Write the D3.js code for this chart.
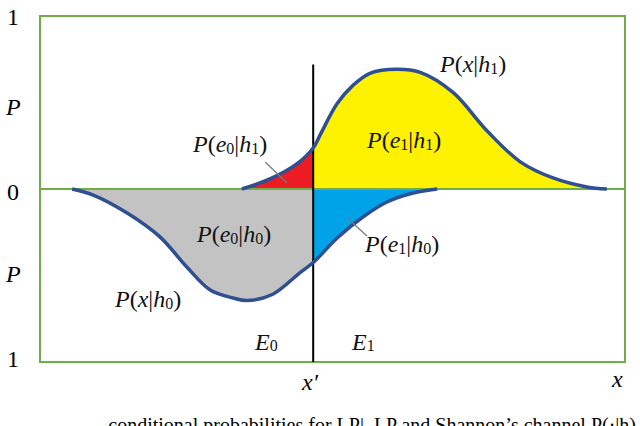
<!DOCTYPE html>
<html>
<head>
<meta charset="utf-8">
<script src="https://cdn.jsdelivr.net/npm/d3@7"></script>
<style>
  body { margin: 0; background: #fff; }
</style>
</head>
<body>
<div id="chart"></div>
<script>
// P(x|h1), above the zero line
var h1X = [34.5, 39.3, 43.9, 46.7, 48.0, 50.8, 53.5, 56.4, 61.0, 65.0, 70.6, 76.4, 82.1, 87.7, 93.5, 96.9];
var h1P = [0, 0.058, 0.145, 0.237, 0.32, 0.494, 0.599, 0.669, 0.692, 0.674, 0.558, 0.337, 0.157, 0.064, 0.012, 0];
// P(x|h0), drawn downward
var h0X = [5.5, 9.1, 14.9, 20.5, 25.1, 29.1, 33.0, 35.4, 39.7, 44.4, 46.8, 50.8, 55.2, 59.3, 63.8, 67.9];
var h0P = [0, -0.035, -0.139, -0.277, -0.451, -0.584, -0.630, -0.645, -0.610, -0.485, -0.422, -0.283, -0.162, -0.075, -0.023, 0];
var xSplit = 46.7;   // x'
var splitTop = 0.72;
var leaders = [[38.5, 0.156, 42.2, 0.035], [52.5, -0.168, 55.9, -0.272]];

var serif = "'Liberation Serif', 'Times New Roman', 'DejaVu Serif', serif";
var width = 640, height = 426;
var svg = d3.select("#chart").append("svg")
    .attr("width", width)
    .attr("height", height);

var x = d3.scaleLinear().domain([0, 100]).range([40, 625]);
var y = d3.scaleLinear().domain([-1, 1]).range([362, 16]);

var h1 = h1X.map(function(d, i) { return {x: d, p: h1P[i]}; });
var h0 = h0X.map(function(d, i) { return {x: d, p: h0P[i]}; });

var defs = svg.append("defs");
defs.append("clipPath").attr("id", "left")
  .append("rect")
    .attr("x", 0).attr("y", 0)
    .attr("width", x(xSplit)).attr("height", height);
defs.append("clipPath").attr("id", "right")
  .append("rect")
    .attr("x", x(xSplit)).attr("y", 0)
    .attr("width", width - x(xSplit)).attr("height", height);

var area = d3.area()
    .x(function(d) { return x(d.x); })
    .y0(y(0))
    .y1(function(d) { return y(d.p); })
    .curve(d3.curveCatmullRom.alpha(0.5));
var line = d3.line()
    .x(function(d) { return x(d.x); })
    .y(function(d) { return y(d.p); })
    .curve(d3.curveCatmullRom.alpha(0.5));

// fills
svg.append("path").datum(h0).attr("d", area).attr("clip-path", "url(#left)").style("fill", "#c3c3c3");
svg.append("path").datum(h0).attr("d", area).attr("clip-path", "url(#right)").style("fill", "#00a2e8");
svg.append("path").datum(h1).attr("d", area).attr("clip-path", "url(#left)").style("fill", "#ed1c24");
svg.append("path").datum(h1).attr("d", area).attr("clip-path", "url(#right)").style("fill", "#fff200");

// frame and zero line
svg.append("rect")
    .attr("x", x(0)).attr("y", y(1))
    .attr("width", x(100) - x(0)).attr("height", y(-1) - y(1))
    .style("fill", "none")
    .style("stroke", "#70ad47")
    .style("stroke-width", 2);
svg.append("line")
    .attr("x1", x(0)).attr("x2", x(100))
    .attr("y1", y(0)).attr("y2", y(0))
    .style("stroke", "#70ad47")
    .style("stroke-width", 2);

// x' divider
svg.append("line")
    .attr("x1", x(xSplit)).attr("x2", x(xSplit))
    .attr("y1", y(splitTop)).attr("y2", y(-1))
    .style("stroke", "#000")
    .style("stroke-width", 2);

// curves
svg.append("path").datum(h0).attr("d", line)
    .style("fill", "none").style("stroke", "#2f4f93").style("stroke-width", 3.5);
svg.append("path").datum(h1).attr("d", line)
    .style("fill", "none").style("stroke", "#2f4f93").style("stroke-width", 3.5);

// leader lines
svg.selectAll(".leader")
  .data(leaders)
  .enter().append("line")
    .attr("class", "leader")
    .attr("x1", function(d) { return x(d[0]); })
    .attr("y1", function(d) { return y(d[1]); })
    .attr("x2", function(d) { return x(d[2]); })
    .attr("y2", function(d) { return y(d[3]); })
    .style("stroke", "#777")
    .style("stroke-width", 1.2);

// labels like P(e0|h1)
function prob(px, py, a, sa, b, sb) {
  var t = svg.append("text")
      .attr("x", px).attr("y", py)
      .style("font-family", serif)
      .style("font-size", "24px")
      .style("fill", "#111");
  t.append("tspan").style("font-style", "italic").text("P");
  t.append("tspan").text("(");
  t.append("tspan").style("font-style", "italic").text(a);
  if (sa) t.append("tspan").style("font-size", "16px").attr("dy", 2).text(sa);
  t.append("tspan").attr("dy", sa ? -2 : 0).text("|");
  t.append("tspan").style("font-style", "italic").text(b);
  t.append("tspan").style("font-size", "16px").attr("dy", 2).text(sb);
  t.append("tspan").attr("dy", -2).text(")");
}
prob(193, 152, "e", "0", "h", "1");
prob(367, 148, "e", "1", "h", "1");
prob(440, 72, "x", "", "h", "1");
prob(197, 242, "e", "0", "h", "0");
prob(365, 252, "e", "1", "h", "0");
prob(115, 307, "x", "", "h", "0");

// E0, E1
[["E", "0", 255], ["E", "1", 352]].forEach(function(d) {
  var t = svg.append("text").attr("x", d[2]).attr("y", 350)
      .style("font-family", serif).style("font-size", "24px").style("fill", "#111");
  t.append("tspan").style("font-style", "italic").text(d[0]);
  t.append("tspan").style("font-size", "16px").attr("dy", 1).text(d[1]);
});

svg.append("text")
    .attr("x", 302).attr("y", 390)
    .style("font-family", serif)
    .style("font-size", "24px").style("font-style", "italic")
    .text("x\u2032");
svg.append("text")
    .attr("x", 612).attr("y", 387)
    .style("font-family", serif)
    .style("font-size", "24px").style("font-style", "italic")
    .text("x");

// left side labels
var leftLabels = [["1", 25, false], ["P", 115, true], ["0", 200, false], ["P", 282, true], ["1", 367, false]];
leftLabels.forEach(function(d) {
  svg.append("text")
      .attr("x", d[2] ? 6 : 7).attr("y", d[1])
      .style("font-family", serif)
      .style("font-size", "24px")
      .style("font-style", d[2] ? "italic" : "normal")
      .text(d[0]);
});

// caption cut by the bottom edge
svg.append("text")
    .attr("x", 636).attr("y", 432)
    .attr("text-anchor", "end")
    .style("font-family", serif)
    .style("font-size", "20px")
    .text("conditional probabilities for LP|, LP and Shannon\u2019s channel P(\u00b7|h)");
</script>
</body>
</html>
